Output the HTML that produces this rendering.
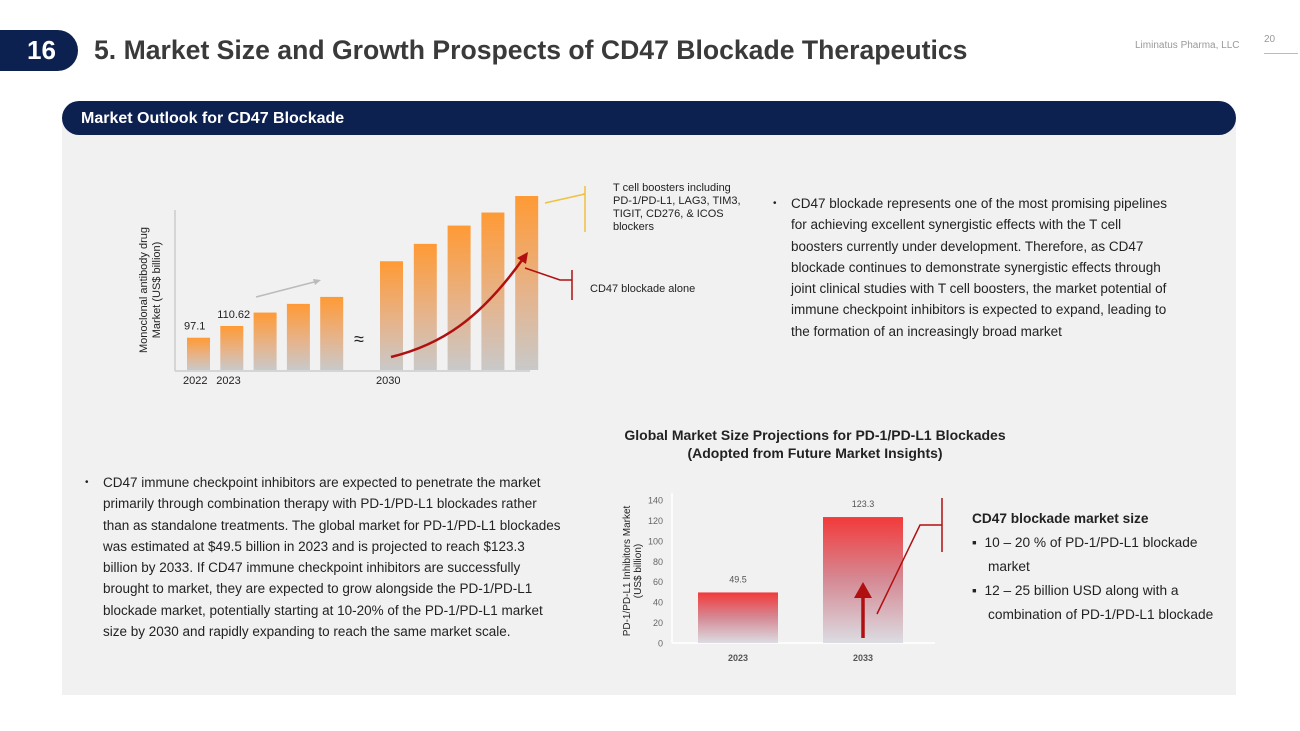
<!DOCTYPE html>
<html><head><meta charset="utf-8"><style>
*{margin:0;padding:0;box-sizing:border-box}
body{width:1300px;height:731px;background:#fff;position:relative;overflow:hidden;font-family:"Liberation Sans",sans-serif;color:#222}
.abs{position:absolute}
.txt{font-size:13.5px;line-height:21.3px;color:#222;white-space:nowrap}
</style></head><body>
<div class="abs" style="left:0;top:30px;width:78px;height:41px;background:#0d2150;border-radius:0 21px 21px 0;color:#fff;font-weight:bold;font-size:26px;line-height:41px;padding-left:27px">16</div>
<div class="abs" style="left:94px;top:35px;font-size:26.6px;font-weight:bold;color:#3a3a3a">5. Market Size and Growth Prospects of CD47 Blockade Therapeutics</div>
<div class="abs" style="left:1135px;top:40px;font-size:10px;color:#999">Liminatus Pharma, LLC</div>
<div class="abs" style="left:1264px;top:34px;font-size:10px;color:#999;border-bottom:1px solid #bbb;width:34px;padding-bottom:8px">20</div>
<div class="abs" style="left:62px;top:118px;width:1174px;height:577px;background:#f1f1f1"></div>
<div class="abs" style="left:62px;top:101px;width:1174px;height:34px;background:#0d2150;border-radius:17px;color:#fff;font-weight:bold;font-size:16px;line-height:36px;padding-left:19px">Market Outlook for CD47 Blockade</div>

<svg class="abs" style="left:0;top:0" width="1300" height="731" id="c1">
<defs>
<linearGradient id="og" x1="0" y1="0" x2="0" y2="1"><stop offset="0" stop-color="#ff9a35"/><stop offset="0.55" stop-color="#e6b38a"/><stop offset="1" stop-color="#c9c9c9"/></linearGradient>
<linearGradient id="rg" x1="0" y1="0" x2="0" y2="1"><stop offset="0" stop-color="#f23a3a"/><stop offset="0.5" stop-color="#d58a95"/><stop offset="1" stop-color="#dcdce2"/></linearGradient>
</defs>
</svg>

<div class="abs txt" style="left:773px;top:193px">
<span style="position:absolute;left:0;font-size:10px">•</span><div style="padding-left:18px">CD47 blockade represents one of the most promising pipelines<br>for achieving excellent synergistic effects with the T cell<br>boosters currently under development. Therefore, as CD47<br>blockade continues to demonstrate synergistic effects through<br>joint clinical studies with T cell boosters, the market potential of<br>immune checkpoint inhibitors is expected to expand, leading to<br>the formation of an increasingly broad market</div></div>

<div class="abs txt" style="left:85px;top:472px">
<span style="position:absolute;left:0;font-size:10px">•</span><div style="padding-left:18px">CD47 immune checkpoint inhibitors are expected to penetrate the market<br>primarily through combination therapy with PD-1/PD-L1 blockades rather<br>than as standalone treatments. The global market for PD-1/PD-L1 blockades<br>was estimated at $49.5 billion in 2023 and is projected to reach $123.3<br>billion by 2033. If CD47 immune checkpoint inhibitors are successfully<br>brought to market, they are expected to grow alongside the PD-1/PD-L1<br>blockade market, potentially starting at 10-20% of the PD-1/PD-L1 market<br>size by 2030 and rapidly expanding to reach the same market scale.</div></div>

<div class="abs" style="left:560px;top:426px;width:510px;text-align:center;font-weight:bold;font-size:14px;line-height:18px;color:#222">Global Market Size Projections for PD-1/PD-L1 Blockades<br>(Adopted from Future Market Insights)</div>

<div class="abs" style="left:972px;top:507px;font-size:13.7px;line-height:24px;color:#222;white-space:nowrap">
<div style="font-weight:bold">CD47 blockade market size</div>
<div>▪&nbsp; 10 – 20 % of PD-1/PD-L1 blockade</div>
<div style="padding-left:16px">market</div>
<div>▪&nbsp; 12 – 25 billion USD along with a</div>
<div style="padding-left:16px">combination of PD-1/PD-L1 blockade</div>
</div>

<script>
const mabLabels=["2022","2023","","","","2030","","","",""];
const mabValues=[97.1,110.62,126,136,144,185,205,226,241,260];
const mabPrinted=["97.1","110.62","","","","","","","",""];
const pdCategories=["2023","2033"];
const pdValues=[49.5,123.3];
const pdTicks=[0,20,40,60,80,100,120,140];

const NS="http://www.w3.org/2000/svg";
const svg=document.getElementById('c1');
function mk(t,a,txt){const e=document.createElementNS(NS,t);for(const k in a)e.setAttribute(k,a[k]);if(txt!==undefined)e.textContent=txt;svg.appendChild(e);return e;}

const b1=370;
function y1(v){return b1-(v-60)*0.87;}
const x1pos=i=>i<5?187+i*33.3:380+(i-5)*33.8;
let ax=mk('line',{x1:175,y1:210,x2:175,y2:371,stroke:'#ccc','stroke-width':1.5});

ax=mk('line',{x1:175,y1:371,x2:530,y2:371,stroke:'#ccc','stroke-width':1.5});

mabValues.forEach((v,i)=>{
  const x=x1pos(i),y=y1(v);
  const r=mk('rect',{x:x,y:y,width:23,height:b1-y,fill:'url(#og)'});
  
  
  if(mabPrinted[i]){const t=mk('text',{x:x-3,y:y-8,'font-size':11,fill:'#222'},mabPrinted[i]);
    }
  if(mabLabels[i]){const t=mk('text',{x:x-4,y:384,'font-size':11,fill:'#222'},mabLabels[i]);
    }
});
let t=mk('text',{x:0,y:0,'font-size':11,fill:'#222','text-anchor':'middle',transform:'translate(149,290) rotate(-90)'});

t.innerHTML='<tspan x="0" dy="-2">Monoclonal antibody drug</tspan><tspan x="0" dy="13">Market (US$ billion)</tspan>';
t=mk('text',{x:354,y:345,'font-size':18,fill:'#222'},'≈');

let l=mk('path',{d:'M256 297 L318 281',stroke:'#bbb','stroke-width':1.5,fill:'none'});

l=mk('path',{d:'M313 279 L321 280 L315 285Z',fill:'#bbb'});

l=mk('path',{d:'M391 357 C440 345 480 320 525 256',stroke:'#b01010','stroke-width':2.5,fill:'none'});

l=mk('path',{d:'M528 252 L517 258 L526 264Z',fill:'#b01010'});

l=mk('path',{d:'M545 203 L585 194 L583 194 M585 186 L585 232',stroke:'#f0c040','stroke-width':1.5,fill:'none'});

l=mk('path',{d:'M525 268 L560 280 L572 280 M572 270 L572 300',stroke:'#b01010','stroke-width':1.5,fill:'none'});

t=mk('text',{x:613,y:191,'font-size':11,fill:'#222'});

t.innerHTML='<tspan x="613" dy="0">T cell boosters including</tspan><tspan x="613" dy="13">PD-1/PD-L1, LAG3, TIM3,</tspan><tspan x="613" dy="13">TIGIT, CD276, &amp; ICOS</tspan><tspan x="613" dy="13">blockers</tspan>';
t=mk('text',{x:590,y:292,'font-size':11,fill:'#222'},'CD47 blockade alone');


const b2=643,sc=143/140;
const y2=v=>b2-v*sc;
pdTicks.forEach(v=>{const e=mk('text',{x:663,y:y2(v)+3.5,'font-size':9,fill:'#666','text-anchor':'end'},String(v));
  });
ax=mk('line',{x1:672,y1:b2,x2:935,y2:b2,stroke:'#fff','stroke-width':1.5});

ax=mk('line',{x1:672,y1:493,x2:672,y2:b2,stroke:'#fff','stroke-width':1.5});

pdValues.forEach((v,i)=>{
  const cx=738+i*125,y=y2(v);
  const r=mk('rect',{x:cx-40,y:y,width:80,height:b2-y,fill:'url(#rg)'});
  
  
  const tv=mk('text',{x:cx,y:y-10,'font-size':9,fill:'#555','text-anchor':'middle'},String(v));
  
  const tl=mk('text',{x:cx,y:661,'font-size':9,'font-weight':'bold',fill:'#555','text-anchor':'middle'},pdCategories[i]);
  
});
t=mk('text',{x:0,y:0,'font-size':10,fill:'#222','text-anchor':'middle',transform:'translate(630,571) rotate(-90)'});

t.innerHTML='<tspan x="0" dy="0">PD-1/PD-L1 Inhibitors Market</tspan><tspan x="0" dy="11">(US$ billion)</tspan>';
l=mk('path',{d:'M863 638 L863 592',stroke:'#b01010','stroke-width':3.5,fill:'none'});

l=mk('path',{d:'M854 598 L863 582 L872 598Z',fill:'#b01010'});

l=mk('path',{d:'M877 614 L920 525 L942 525 M942 498 L942 552',stroke:'#b01010','stroke-width':1.5,fill:'none'});

</script>
</body></html>
